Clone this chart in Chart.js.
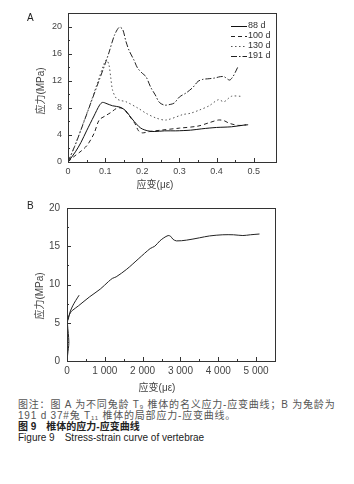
<!DOCTYPE html>
<html>
<head>
<meta charset="utf-8">
<script src="https://cdn.jsdelivr.net/npm/chart.js@4.4.1/dist/chart.umd.min.js"></script>
<style>
  body { margin: 0; background: #fff; width: 354px; height: 484px; position: relative; overflow: hidden;
         font-family: "Liberation Sans", "Noto Sans CJK SC", sans-serif; color: #333; }
  canvas { position: absolute; left: 0; }
  #chartA { top: 0; }
  #chartB { top: 195px; }
  .cap { position: absolute; left: 18px; font-size: 10px; line-height: 11px; white-space: nowrap; }
  .cap sub { font-size: 6px; vertical-align: -1px; }
</style>
</head>
<body>
<canvas id="chartA" width="354" height="195"></canvas>
<canvas id="chartB" width="354" height="200"></canvas>
<div class="cap" style="top:399px;color:#555;letter-spacing:0.8px">图注：图 A 为不同兔龄 T<sub>9</sub> 椎体的名义应力-应变曲线；B 为兔龄为</div>
<div class="cap" style="top:410px;color:#555;letter-spacing:0.8px">191 d 37#兔 T<sub>11</sub> 椎体的局部应力-应变曲线。</div>
<div class="cap" style="top:421px;color:#222;font-weight:bold">图 9　椎体的应力-应变曲线</div>
<div class="cap" style="top:432px;color:#222">Figure 9　Stress-strain curve of vertebrae</div>
<script>
// Panel A: nominal stress-strain, four ages
const strain88 = [0, 0.02, 0.035, 0.05, 0.07, 0.085, 0.093, 0.105, 0.12, 0.14, 0.155, 0.165, 0.178, 0.196, 0.215, 0.232, 0.26, 0.29, 0.33, 0.36, 0.4, 0.44, 0.48];
const stress88 = [0, 1.5, 2.9, 4.6, 6.8, 8.4, 8.8, 8.6, 8.3, 8.1, 7.6, 6.9, 6.0, 5.0, 4.6, 4.5, 4.6, 4.6, 4.7, 4.9, 5.1, 5.2, 5.5];

const strain100 = [0, 0.016, 0.035, 0.052, 0.07, 0.084, 0.1, 0.115, 0.13, 0.14, 0.15, 0.165, 0.18, 0.19, 0.2, 0.22, 0.25, 0.3, 0.35, 0.38, 0.405, 0.42, 0.435, 0.46, 0.485];
const stress100 = [0, 0.8, 1.6, 2.5, 4.2, 6.2, 6.8, 7.3, 7.9, 8.0, 7.8, 6.8, 5.7, 4.6, 4.3, 4.5, 4.7, 5.0, 5.3, 5.8, 6.2, 6.1, 5.7, 5.4, 5.5];

const strain130 = [0, 0.02, 0.04, 0.06, 0.08, 0.095, 0.103, 0.11, 0.115, 0.12, 0.13, 0.14, 0.156, 0.19, 0.21, 0.237, 0.264, 0.309, 0.33, 0.355, 0.38, 0.405, 0.42, 0.44, 0.467];
const stress130 = [0, 2.6, 5.6, 8.6, 11.8, 14.2, 15.1, 14.4, 12.5, 10.6, 9.4, 9.1, 8.9, 7.9, 7.2, 6.5, 6.2, 7.0, 7.2, 7.7, 8.3, 9.2, 8.9, 9.7, 9.7];

const strain191 = [0, 0.02, 0.04, 0.06, 0.08, 0.1, 0.11, 0.125, 0.138, 0.147, 0.156, 0.165, 0.178, 0.187, 0.2, 0.21, 0.223, 0.235, 0.246, 0.26, 0.275, 0.286, 0.3, 0.318, 0.336, 0.35, 0.363, 0.38, 0.395, 0.41, 0.42, 0.435, 0.444, 0.45, 0.457];
const stress191 = [0, 2.6, 5.5, 8.5, 11.5, 14.5, 16.1, 18.7, 19.9, 19.6, 17.8, 16.4, 15.0, 13.9, 13.1, 12.6, 11.0, 9.9, 8.8, 8.4, 8.5, 8.7, 9.6, 10.2, 11.0, 11.9, 12.2, 12.3, 12.4, 12.6, 12.6, 12.1, 12.6, 13.2, 14.0];

const labelsA = ["88 d", "100 d", "130 d", "191 d"];
const xTicksA = [0, 0.1, 0.2, 0.3, 0.4, 0.5];
const yTicksA = [0, 4, 8, 12, 16, 20];

// Panel B: local stress-strain, rabbit 37#, 191 d
const strainB = [0, 25, 45, 48, 35, 12, 25, 50, 90, 140, 300, 600, 880, 1100, 1200, 1300, 1580, 1900, 2200, 2320, 2455, 2560, 2675, 2740, 2805, 2895, 3160, 3500, 3770, 4120, 4400, 4650, 4850, 5090];
const stressB = [0, 1.2, 2.0, 2.6, 3.6, 4.9, 5.5, 5.9, 6.3, 6.6, 7.2, 8.4, 9.4, 10.4, 10.8, 11.0, 12.0, 13.4, 14.7, 15.0, 15.7, 16.1, 16.4, 16.3, 15.9, 15.7, 15.8, 16.1, 16.35, 16.5, 16.5, 16.4, 16.5, 16.6];
const strainB2 = [30, 80, 150, 230, 320];
const stressB2 = [5.4, 6.4, 7.2, 7.9, 8.6];

const xTicksB = [0, 1000, 2000, 3000, 4000, 5000];
const yTicksB = [0, 5, 10, 15, 20];

const FONT = '"Liberation Sans", "Noto Sans CJK SC", sans-serif';

function toPoints(xs, ys) {
  return xs.map((x, i) => ({ x: x, y: ys[i] }));
}

function lineSet(label, xs, ys, dash, color) {
  return {
    label: label,
    data: toPoints(xs, ys),
    showLine: true,
    borderColor: color || "#222",
    borderWidth: 1,
    borderDash: dash || [],
    pointRadius: 0,
    tension: 0.3,
  };
}

// frame, inward ticks, axis titles, panel letter and legend
const decor = {
  id: "decor",
  afterDraw(chart, args, opts) {
    const ctx = chart.ctx;
    const a = chart.chartArea;
    const xs = chart.scales.x, ys = chart.scales.y;
    ctx.save();
    ctx.strokeStyle = "#333";
    ctx.lineWidth = 1;
    ctx.setLineDash([]);
    ctx.strokeRect(Math.round(a.left) + 0.5, Math.round(a.top) + 0.5, Math.round(a.right - a.left), Math.round(a.bottom - a.top));

    const drawTicks = (vals, isX) => {
      const scale = isX ? xs : ys;
      vals.forEach((v, i) => {
        const p = Math.round(scale.getPixelForValue(v)) + 0.5;
        ctx.beginPath();
        if (isX) { ctx.moveTo(p, a.bottom); ctx.lineTo(p, a.bottom - 4); }
        else { ctx.moveTo(a.left, p); ctx.lineTo(a.left + 4, p); }
        ctx.stroke();
        if (i < vals.length - 1) {
          const m = Math.round(scale.getPixelForValue((v + vals[i + 1]) / 2)) + 0.5;
          ctx.beginPath();
          if (isX) { ctx.moveTo(m, a.bottom); ctx.lineTo(m, a.bottom - 2); }
          else { ctx.moveTo(a.left, m); ctx.lineTo(a.left + 2, m); }
          ctx.stroke();
        }
      });
    };
    drawTicks(opts.xTicks, true);
    drawTicks(opts.yTicks, false);

    ctx.fillStyle = "#444";
    ctx.font = "10px " + FONT;
    ctx.textAlign = "center";
    ctx.textBaseline = "middle";
    ctx.fillText(opts.xTitle.text, opts.xTitle.x, opts.xTitle.y);
    ctx.save();
    ctx.translate(opts.yTitle.x, opts.yTitle.y);
    ctx.rotate(-Math.PI / 2);
    ctx.fillText(opts.yTitle.text, 0, 0);
    ctx.restore();

    ctx.fillStyle = "#222";
    ctx.textAlign = "left";
    ctx.fillText(opts.letter.text, opts.letter.x, opts.letter.y);

    if (opts.legend) {
      ctx.font = "9px " + FONT;
      chart.data.datasets.forEach((ds, i) => {
        const y = opts.legend.y + i * opts.legend.step;
        ctx.strokeStyle = ds.borderColor;
        ctx.setLineDash(ds.borderDash);
        ctx.beginPath();
        ctx.moveTo(opts.legend.x, y + 0.5);
        ctx.lineTo(opts.legend.x + 16, y + 0.5);
        ctx.stroke();
        ctx.fillStyle = "#333";
        ctx.fillText(ds.label, opts.legend.x + 17, y);
      });
    }
    ctx.restore();
  },
};

function axis(min, max, ticks, size, padding, fmt, isX, fontSize) {
  return {
    type: "linear",
    min: min,
    max: max,
    afterBuildTicks: (s) => { s.ticks = ticks.map((v) => ({ value: v })); },
    afterFit: (s) => { if (isX) s.height = size; else s.width = size; },
    grid: { display: false, drawTicks: false },
    border: { display: false },
    ticks: { padding: padding, color: "#444", font: { size: fontSize, family: FONT }, callback: fmt, maxRotation: 0, autoSkip: false },
  };
}

new Chart(document.getElementById("chartA"), {
  type: "scatter",
  data: {
    datasets: [
      lineSet(labelsA[0], strain88, stress88, [], "#111"),
      lineSet(labelsA[1], strain100, stress100, [4, 3], "#222"),
      lineSet(labelsA[2], strain130, stress130, [1.5, 2.5], "#555"),
      lineSet(labelsA[3], strain191, stress191, [6, 2, 1.5, 2], "#222"),
    ],
  },
  options: {
    responsive: false,
    animation: false,
    layout: { padding: { left: 0, right: 78, top: 13, bottom: 0 } },
    scales: {
      x: axis(0, 0.56, xTicksA, 33, 4, (v) => (Number(v) === 0 ? "0" : Number(v).toFixed(1)), true, 9),
      y: axis(0, 22, yTicksA, 68, 6, (v) => String(v), false, 9),
    },
    plugins: {
      legend: { display: false },
      tooltip: { enabled: false },
      decor: {
        xTicks: xTicksA,
        yTicks: yTicksA,
        xTitle: { text: "应变(με)", x: 155, y: 185 },
        yTitle: { text: "应力(MPa)", x: 41, y: 91 },
        letter: { text: "A", x: 27, y: 18 },
        legend: { x: 231, y: 26, step: 10 },
      },
    },
  },
  plugins: [decor],
});

new Chart(document.getElementById("chartB"), {
  type: "scatter",
  data: {
    datasets: [
      lineSet("191 d", strainB, stressB, [], "#222"),
      lineSet("191 d", strainB2, stressB2, [], "#222"),
    ],
  },
  options: {
    responsive: false,
    animation: false,
    layout: { padding: { left: 0, right: 79, top: 12, bottom: 0 } },
    scales: {
      x: axis(0, 5500, xTicksB, 34, 4, (v) => (Number(v) === 0 ? "0" : (Number(v) / 1000) + " 000"), true, 10),
      y: axis(0, 20, yTicksB, 67, 7, (v) => String(v), false, 10),
    },
    plugins: {
      legend: { display: false },
      tooltip: { enabled: false },
      decor: {
        xTicks: xTicksB,
        yTicks: yTicksB,
        xTitle: { text: "应变(με)", x: 157, y: 193 },
        yTitle: { text: "应力(MPa)", x: 40, y: 101 },
        letter: { text: "B", x: 27, y: 11 },
      },
    },
  },
  plugins: [decor],
});
</script>
</body>
</html>
